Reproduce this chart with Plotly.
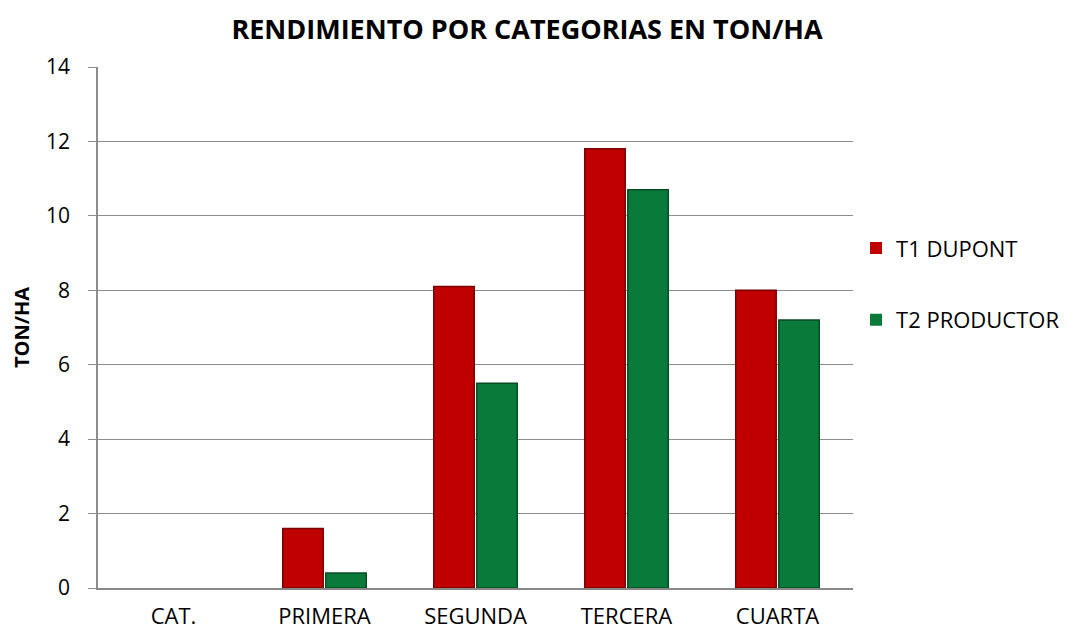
import plotly.graph_objects as go

categories = ["CAT.", "PRIMERA", "SEGUNDA", "TERCERA", "CUARTA"]
t1_dupont = [0, 1.6, 8.1, 11.8, 8.0]
t2_productor = [0, 0.4, 5.5, 10.7, 7.2]
y_ticks = [0, 2, 4, 6, 8, 10, 12, 14]

FONT = "Open Sans"


def outline_widths(values):
    return [0 if v == 0 else 1.5 for v in values]


fig = go.Figure()
fig.add_trace(go.Bar(
    x=categories, y=t1_dupont, name="T1 DUPONT", legendgroup="a",
    marker=dict(color="#C00000",
                line=dict(color="#7A0000", width=outline_widths(t1_dupont))),
))
fig.add_trace(go.Bar(
    x=categories, y=t2_productor, name="T2 PRODUCTOR", legendgroup="b",
    marker=dict(color="#0A7A3A",
                line=dict(color="#064D24", width=outline_widths(t2_productor))),
))

fig.update_layout(
    width=1062, height=625,
    paper_bgcolor="white", plot_bgcolor="white",
    margin=dict(l=90, r=217, t=59, b=45, autoexpand=False),
    title=dict(text="<b>RENDIMIENTO POR CATEGORIAS EN TON/HA</b>",
               x=0.4887, xanchor="center", y=0.9648, yanchor="middle",
               font=dict(family=FONT, size=27, color="black")),
    font=dict(family=FONT, size=21, color="black"),
    barmode="group", bargap=0.43, bargroupgap=0.06,
    legend=dict(x=1.004, xanchor="left", y=0.583, yanchor="middle",
                font=dict(family=FONT, size=22), tracegroupgap=40,
                itemwidth=30),
    showlegend=True,
)
fig.update_xaxes(showline=True, linecolor="#888888", linewidth=1.5,
                 ticks="", showgrid=False, tickfont=dict(size=22),
                 ticklabelstandoff=8, automargin=False)
fig.update_yaxes(range=[0, 14], tickvals=y_ticks, showgrid=True,
                 gridcolor="#8C8C8C", gridwidth=1, showline=True,
                 linecolor="#8C8C8C", linewidth=1.5, ticks="outside",
                 ticklen=8, tickcolor="#8C8C8C", zeroline=False,
                 tickfont=dict(size=21), ticklabelstandoff=14, automargin=False,
                 title=dict(text="<b>TON/HA</b>", font=dict(size=20), standoff=13))

fig.write_html("out.html")
